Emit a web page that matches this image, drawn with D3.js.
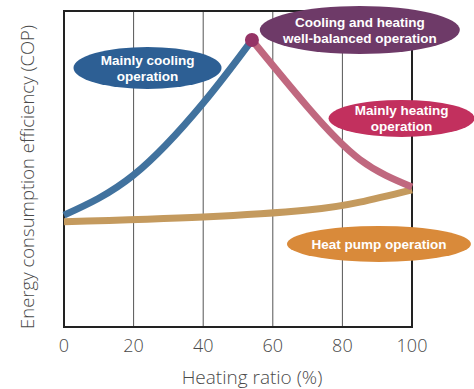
<!DOCTYPE html>
<html>
<head>
<meta charset="utf-8">
<script src="https://cdn.jsdelivr.net/npm/d3@7"></script>
<style>
  body { margin: 0; background: #fff; }
  svg { display: block; }
  .axis-text { font-family: "Open Sans", sans-serif; font-weight: 300; fill: #4a4a4a; }
  .bubble-text { font-family: "Liberation Sans", Arial, sans-serif; font-weight: bold; fill: #fff; font-size: 13.5px; }
</style>
</head>
<body>
<div id="chart"></div>
<script>
// Tick values on the heating ratio axis
const xTicks = [0, 20, 40, 60, 80, 100];

// Mainly cooling branch (blue)
const coolingX = [0, 20, 40, 54];
const coolingY = [35.4, 48.1, 70.9, 90.8];

// Mainly heating branch (pink)
const heatingX = [54, 70, 85, 100];
const heatingY = [90.8, 69.6, 53, 44.3];

// Heat pump operation (tan)
const heatPumpX = [0, 40, 70, 85, 100];
const heatPumpY = [33.3, 34.8, 37, 39.5, 43.4];

// Bubble labels
const bubbles = [
    { lines: ["Mainly cooling", "operation"], x: 24, y: 82, rx: 74, ry: 21, color: "#2d5f94" },
    { lines: ["Cooling and heating", "well-balanced operation"], x: 85, y: 94, rx: 100, ry: 24, color: "#6e3a68" },
    { lines: ["Mainly heating", "operation"], x: 97, y: 66, rx: 73, ry: 18.5, color: "#c2305e" },
    { lines: ["Heat pump operation"], x: 90.5, y: 26.3, rx: 92, ry: 18, color: "#d98a3a" }
];

const width = 474;
const height = 389;
const margin = { left: 64, right: 62, top: 11, bottom: 62 };

const svg = d3.select('#chart').append('svg')
    .attr('width', width)
    .attr('height', height);

const x = d3.scaleLinear().domain([0, 100]).range([margin.left, width - margin.right]);
const y = d3.scaleLinear().domain([0, 100]).range([height - margin.bottom, margin.top]);

// vertical gridlines
svg.selectAll('.grid')
    .data(xTicks.slice(1, -1))
    .enter().append('line')
    .attr('x1', d => x(d)).attr('x2', d => x(d))
    .attr('y1', y(100)).attr('y2', y(0))
    .attr('stroke', '#555')
    .attr('stroke-width', 1);

// plot frame
svg.append('rect')
    .attr('x', x(0)).attr('y', y(100))
    .attr('width', x(100) - x(0)).attr('height', y(0) - y(100))
    .attr('fill', 'none')
    .attr('stroke', '#222')
    .attr('stroke-width', 2);

// x tick labels
svg.selectAll('.tick-label')
    .data(xTicks)
    .enter().append('text')
    .attr('class', 'axis-text')
    .attr('x', d => x(d))
    .attr('y', 352)
    .attr('text-anchor', 'middle')
    .style('font-size', '18px')
    .text(d => d);

svg.append('text')
    .attr('class', 'axis-text')
    .attr('x', 252)
    .attr('y', 384)
    .attr('text-anchor', 'middle')
    .style('font-size', '19px')
    .text('Heating ratio (%)');

svg.append('text')
    .attr('class', 'axis-text')
    .attr('transform', `translate(34, ${(y(0) + 27) / 2}) rotate(-90)`)
    .attr('text-anchor', 'middle')
    .style('font-size', '18.5px')
    .text('Energy consumption efficiency (COP)');

const line = d3.line()
    .x(d => x(d[0]))
    .y(d => y(d[1]))
    .curve(d3.curveNatural);

const zip = (xs, ys) => xs.map((v, i) => [v, ys[i]]);

svg.append('path')
    .attr('d', line(zip(heatPumpX, heatPumpY)))
    .attr('fill', 'none')
    .attr('stroke', '#c49a5e')
    .attr('stroke-width', 7);

svg.append('path')
    .attr('d', line(zip(heatingX, heatingY)))
    .attr('fill', 'none')
    .attr('stroke', '#c0687f')
    .attr('stroke-width', 7);

svg.append('path')
    .attr('d', line(zip(coolingX, coolingY)))
    .attr('fill', 'none')
    .attr('stroke', '#41729e')
    .attr('stroke-width', 7);

// peak marker
svg.append('circle')
    .attr('cx', x(coolingX[coolingX.length - 1]))
    .attr('cy', y(coolingY[coolingY.length - 1]))
    .attr('r', 7)
    .attr('fill', '#953466');

// bubbles
const b = svg.selectAll('.bubble')
    .data(bubbles)
    .enter().append('g')
    .attr('transform', d => `translate(${x(d.x)}, ${y(d.y)})`);

b.append('ellipse')
    .attr('rx', d => d.rx)
    .attr('ry', d => d.ry)
    .attr('fill', d => d.color);

b.append('text')
    .attr('class', 'bubble-text')
    .attr('text-anchor', 'middle')
    .each(function(d) {
        const n = d.lines.length;
        for (let i = 0; i < n; i++) {
            d3.select(this).append('tspan')
                .attr('x', 0)
                .attr('y', (i - (n - 1) / 2) * 16 + 5)
                .text(d.lines[i]);
        }
    });
</script>
</body>
</html>
